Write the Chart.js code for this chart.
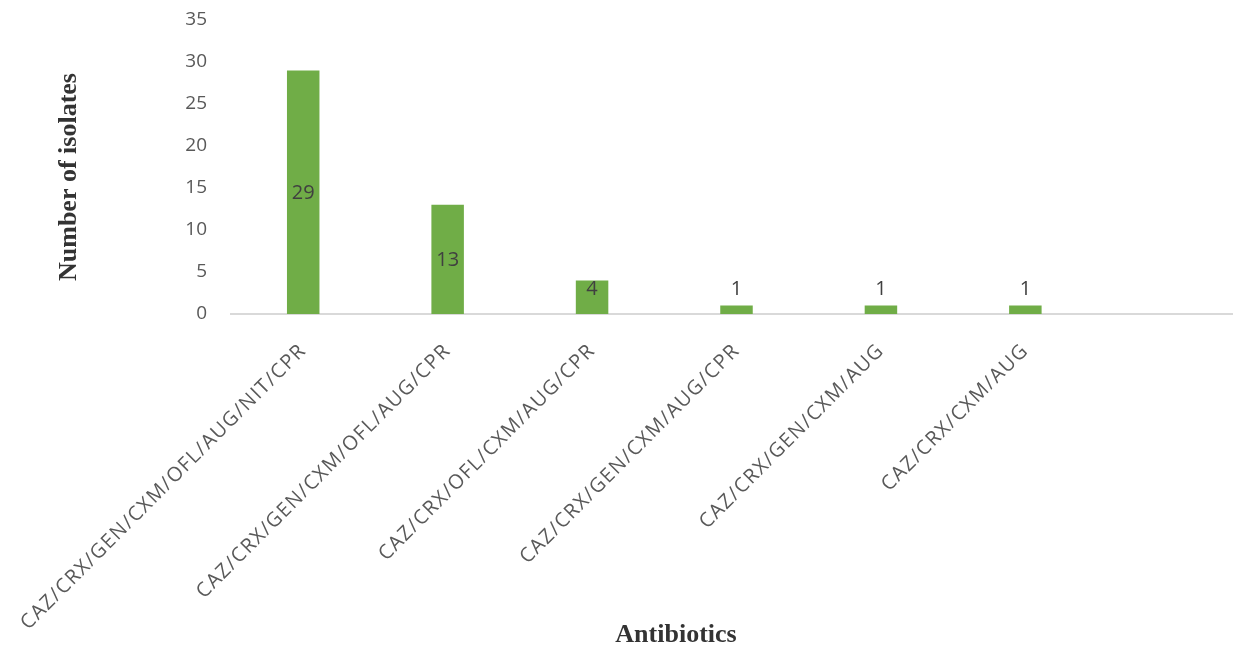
<!DOCTYPE html>
<html>
<head>
<meta charset="utf-8">
<script src="https://cdn.jsdelivr.net/npm/chart.js@4/dist/chart.umd.min.js"></script>
<style>
  html, body { margin: 0; padding: 0; background: #ffffff; overflow: hidden; }
  #wrap { position: relative; width: 1250px; height: 647px; }
</style>
</head>
<body>
<div id="wrap"><canvas id="chart" width="1250" height="647"></canvas></div>
<script>
// Resistance patterns (antibiotic combinations) and the number of isolates showing each
const categories = [
  'CAZ/CRX/GEN/CXM/OFL/AUG/NIT/CPR',
  'CAZ/CRX/GEN/CXM/OFL/AUG/CPR',
  'CAZ/CRX/OFL/CXM/AUG/CPR',
  'CAZ/CRX/GEN/CXM/AUG/CPR',
  'CAZ/CRX/GEN/CXM/AUG',
  'CAZ/CRX/CXM/AUG',
  ''
];
const isolates = [29, 13, 4, 1, 1, 1, null];
const yTicks = [0, 5, 10, 15, 20, 25, 30, 35];

const xTitle = 'Antibiotics';
const yTitle = 'Number of isolates';

const TITLE_FONT = 'bold 26px "Liberation Serif"';
const TITLE_COLOR = '#333333';

// Value labels: centred in the bar, but never closer than 26px to the baseline
const valueLabels = {
  id: 'valueLabels',
  afterDatasetsDraw(chart) {
    const ctx = chart.ctx;
    const meta = chart.getDatasetMeta(0);
    const base = chart.scales.y.getPixelForValue(0);
    ctx.save();
    ctx.font = '20px "Open Sans"';
    ctx.fillStyle = '#404040';
    ctx.textAlign = 'center';
    ctx.textBaseline = 'middle';
    meta.data.forEach((bar, i) => {
      const v = chart.data.datasets[0].data[i];
      if (v === null || v === undefined) return;
      const mid = (bar.y + bar.base) / 2;
      const y = Math.min(mid, base - 26);
      ctx.fillText(String(v), bar.x, y + 1);
    });
    ctx.restore();
  }
};

// Slightly tracked-out category labels on the x axis
const spacedLabels = {
  id: 'spacedLabels',
  afterLayout(chart) {
    const sx = chart.scales.x;
    if (sx._spaced) return;
    const orig = sx.drawLabels.bind(sx);
    sx.drawLabels = function (area) {
      const ctx = chart.ctx;
      ctx.save();
      ctx.letterSpacing = '1.3px';
      orig(area);
      ctx.restore();
    };
    sx._spaced = true;
  }
};

// Axis titles
const axisTitles = {
  id: 'axisTitles',
  afterDraw(chart) {
    const ctx = chart.ctx;
    ctx.save();
    ctx.font = TITLE_FONT;
    ctx.fillStyle = TITLE_COLOR;
    ctx.textAlign = 'center';
    ctx.textBaseline = 'middle';
    ctx.fillText(xTitle, 676, 635);
    ctx.translate(69, 177);
    ctx.rotate(-Math.PI / 2);
    ctx.fillText(yTitle, 0, 0);
    ctx.restore();
  }
};

new Chart(document.getElementById('chart'), {
  type: 'bar',
  data: {
    labels: categories,
    datasets: [{
      data: isolates,
      backgroundColor: '#70ad47',
      borderWidth: 0,
      categoryPercentage: 1,
      barPercentage: 0.225
    }]
  },
  options: {
    responsive: false,
    animation: false,
    events: [],
    layout: { padding: { left: 55, right: 8, top: 20, bottom: 0 } },
    plugins: {
      legend: { display: false },
      tooltip: { enabled: false }
    },
    scales: {
      x: {
        grid: { display: false, drawTicks: false },
        border: { display: true, color: '#d9d9d9', width: 2 },
        ticks: {
          autoSkip: false,
          minRotation: 45,
          maxRotation: 45,
          padding: 25,
          color: '#595959',
          font: { family: 'Open Sans', size: 20 }
        },
        title: { display: false },
        afterFit(scale) {
          scale.height = 333;
          scale.paddingLeft = 0;
          scale.paddingRight = 0;
          scale.paddingTop = 0;
          scale.paddingBottom = 0;
        }
      },
      y: {
        min: 0,
        max: 35,
        afterBuildTicks(scale) { scale.ticks = yTicks.map(v => ({ value: v })); },
        grid: { display: false, drawTicks: false },
        border: { display: false },
        ticks: {
          padding: 24,
          color: '#595959',
          font: { family: 'Open Sans', size: 19 }
        },
        title: { display: false },
        afterFit(scale) {
          scale.width = 231 - 55;
          scale.paddingTop = 0;
          scale.paddingBottom = 0;
        }
      }
    }
  },
  plugins: [valueLabels, spacedLabels, axisTitles]
});
</script>
</body>
</html>
